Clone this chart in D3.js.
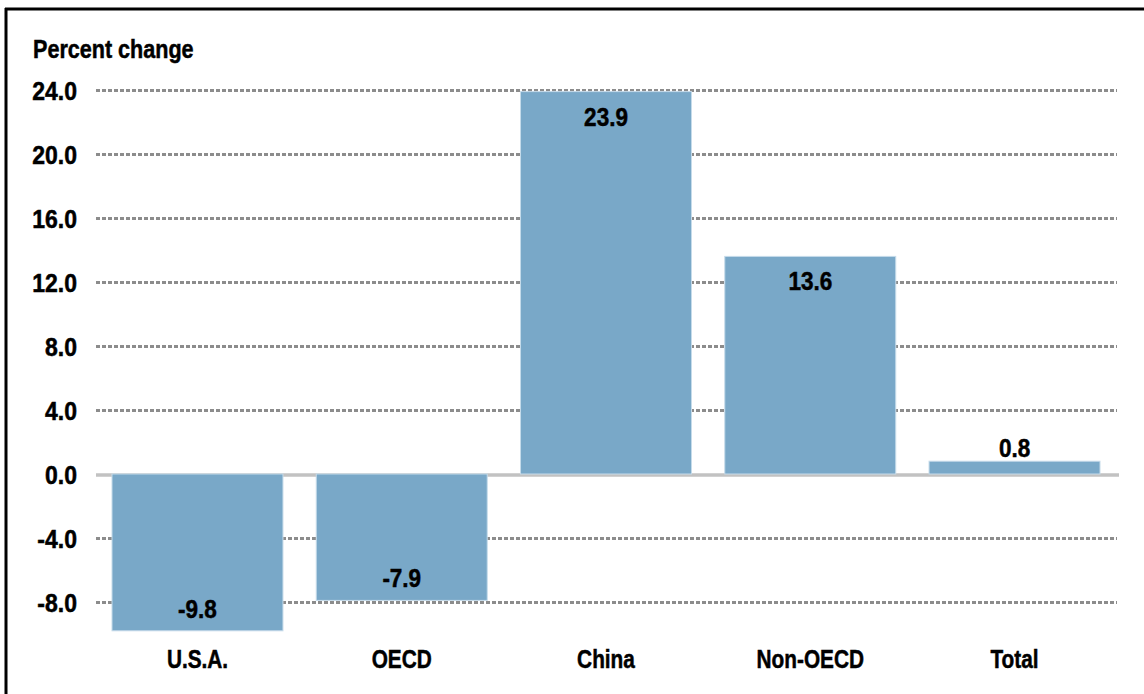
<!DOCTYPE html>
<html>
<head>
<meta charset="utf-8">
<script src="https://cdn.jsdelivr.net/npm/d3@7"></script>
<style>
  html, body { margin: 0; padding: 0; background: #fff; }
  svg { display: block; }
  text { font-family: "Liberation Sans", Arial, sans-serif; font-weight: bold; fill: #000; stroke: #000; stroke-width: 0.5px; }
</style>
</head>
<body>
<svg id="chart" width="1144" height="694"></svg>
<script>
const categories = ["U.S.A.", "OECD", "China", "Non-OECD", "Total"];
const values = [-9.8, -7.9, 23.9, 13.6, 0.8];
const valueLabels = ["-9.8", "-7.9", "23.9", "13.6", "0.8"];
const yTicks = [-8, -4, 0, 4, 8, 12, 16, 20, 24];
const yTickLabels = ["-8.0", "-4.0", "0.0", "4.0", "8.0", "12.0", "16.0", "20.0", "24.0"];
const yTitle = "Percent change";

const svg = d3.select("#chart");
const W = 1144, H = 694;

// frame (top and left edges visible)
svg.append("line").attr("x1", 5).attr("x2", W).attr("y1", 9).attr("y2", 9)
  .attr("stroke", "#000").attr("stroke-width", 3);
svg.append("line").attr("x1", 6).attr("x2", 6).attr("y1", 8).attr("y2", H)
  .attr("stroke", "#000").attr("stroke-width", 3);

const y = d3.scaleLinear().domain([-8, 24]).range([602, 90]);
const x = d3.scaleBand().domain(categories).range([112, 1100]).paddingInner(0.163).paddingOuter(0);

// gridlines
svg.append("g").selectAll("line").data(yTicks.filter(d => d !== 0)).join("line")
  .attr("x1", 96).attr("x2", 1117)
  .attr("y1", d => y(d) + 0.5).attr("y2", d => y(d) + 0.5)
  .attr("stroke", "#8c8c8c").attr("stroke-width", 3)
  .attr("stroke-dasharray", "4,2");

// zero line
svg.append("line").attr("x1", 96).attr("x2", 1119)
  .attr("y1", y(0) + 1).attr("y2", y(0) + 1)
  .attr("stroke", "#c2c2c2").attr("stroke-width", 3.5);

// y axis tick labels
const yAxis = d3.axisLeft(y).tickValues(yTicks)
  .tickFormat((d, i) => yTickLabels[i]).tickSize(0).tickPadding(0);
const gy = svg.append("g").attr("transform", "translate(77,0)").call(yAxis);
gy.select(".domain").remove();
gy.selectAll("text").attr("font-size", null).attr("font-family", null)
  .style("font-size", "25px").attr("dy", "0.36em")
  .attr("transform", "scale(0.92,1)");

// title
svg.append("text").attr("transform", "translate(33,58) scale(0.83,1)")
  .style("font-size", "26px").text(yTitle);

// bars
const data = categories.map((c, i) => ({ c, v: values[i], label: valueLabels[i] }));
svg.append("g").selectAll("rect").data(data).join("rect")
  .attr("x", d => x(d.c))
  .attr("width", x.bandwidth())
  .attr("y", d => Math.min(y(d.v), y(0)))
  .attr("height", d => Math.abs(y(d.v) - y(0)))
  .attr("fill", "#79a8c8")
  .attr("stroke", "#c6dbea").attr("stroke-width", 1);

// value labels
svg.append("g").selectAll("text").data(data).join("text")
  .attr("transform", d => {
    const tx = x(d.c) + x.bandwidth() / 2;
    let ty;
    if (d.v < 0) ty = y(d.v) - 13;
    else if (y(0) - y(d.v) < 40) ty = y(d.v) - 4;
    else ty = y(d.v) + 34;
    return `translate(${tx},${ty}) scale(0.9,1)`;
  })
  .attr("text-anchor", "middle").style("font-size", "25px")
  .text(d => d.label);

// category labels
const xAxis = d3.axisBottom(x).tickSize(0).tickPadding(0);
const gx = svg.append("g").attr("transform", "translate(0,649)").call(xAxis);
gx.select(".domain").remove();
gx.selectAll("text").attr("font-size", null).attr("font-family", null)
  .style("font-size", "26px").attr("dy", "0.72em")
  .attr("transform", "scale(0.8,1)");
</script>
</body>
</html>
